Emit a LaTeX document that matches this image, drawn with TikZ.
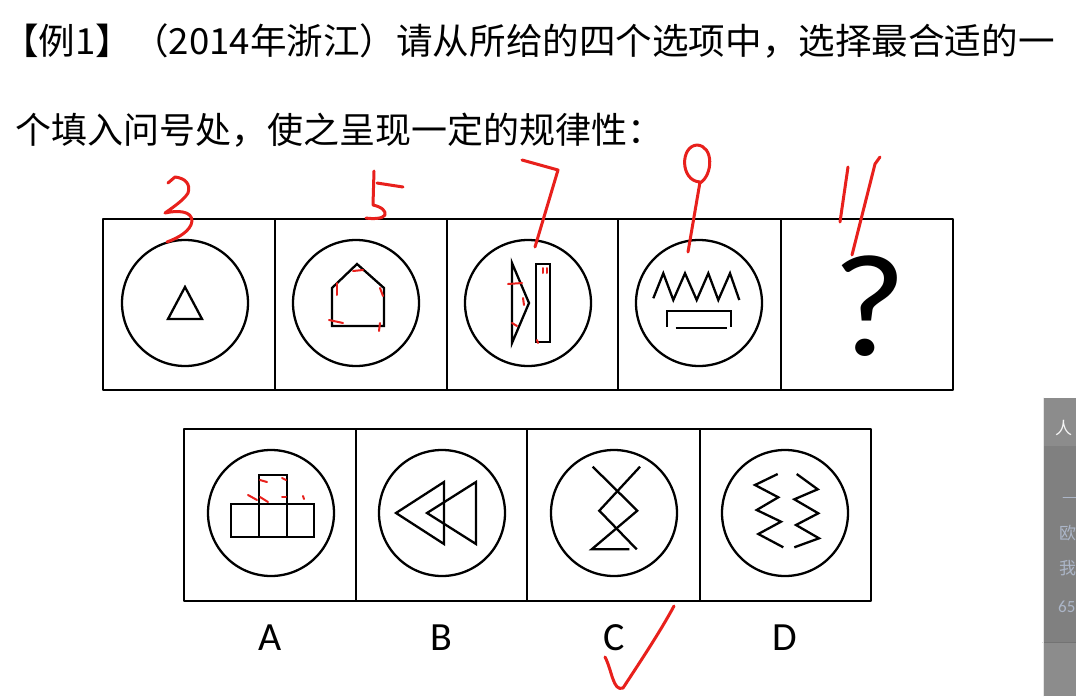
\documentclass[tikz,border=0pt]{standalone}
\usepackage{fontspec}
\setmainfont{Carlito}
\newfontfamily\cjkfont{Noto Sans CJK SC}
\usepackage{xcolor}
\definecolor{inkred}{RGB}{232,32,28}
\definecolor{panelgray}{RGB}{128,128,128}
\definecolor{paneltop}{RGB}{140,140,140}
\definecolor{sideblue}{RGB}{172,182,200}

\begin{document}
\begin{tikzpicture}[x=1pt,y=-1pt,line join=round,line cap=round]
% -------------------------------------------------
% Styles
% -------------------------------------------------
\tikzset{
  cell/.style={draw=black, line width=2.6pt, line cap=rect},
  ring/.style={draw=black, line width=2.3pt},
  glyph/.style={draw=black, line width=2.3pt, line join=miter, line cap=butt},
  ink/.style={draw=inkred, line width=3pt},
  qtext/.style={font=\cjkfont\fontsize{36}{36}\selectfont, anchor=base west, inner sep=0pt},
  optlabel/.style={font=\fontsize{40}{40}\selectfont, anchor=base, inner sep=0pt},
  sidetext/.style={font=\cjkfont\fontsize{17}{17}\selectfont, text=sideblue, anchor=west, inner sep=0pt},
}
\useasboundingbox (0,0) rectangle (1076,696);
\fill[white] (0,0) rectangle (1076,696);
\begin{scope}
\clip (0,0) rectangle (1076,696);
% -------------------------------------------------
% QUESTION
% -------------------------------------------------
\node[qtext] (title1) at (2,54) {\scalebox{1.016}[1]{【例1】（2014年浙江）请从所给的四个选项中，选择最合适的一}};
\node[qtext] (title2) at (15,143) {个填入问号处，使之呈现一定的规律性：};
% -------------------------------------------------
% TOP ROW
% -------------------------------------------------
\draw[cell] (103,219) rectangle (953,390);
\foreach \x in {275,447,618,781}{
  \draw[cell] (\x,219) -- (\x,390);
}
\foreach \x in {185,356,528,699}{
  \draw[ring] (\x,303) circle[radius=63];
}
% triangle
\begin{scope}[shift={(185,303)}]
\draw[glyph] (0,-16) -- (17,16) -- (-17,16) -- cycle;
\end{scope}
% house
\begin{scope}[shift={(356,303)}]
\draw[glyph] (1,-39) -- (28,-15) -- (28,23) -- (-24,23) -- (-24,-15) -- cycle;
\end{scope}
% triangle and bar
\begin{scope}[shift={(528,303)}]
\draw[glyph] (-16,-40) -- (1,0) -- (-16,40) -- cycle;
\draw[glyph] (8,-39) rectangle (22,39);
\end{scope}
% zigzag and bracket
\begin{scope}[shift={(699,303)}]
\draw[glyph] (-45.7,-4.7) -- (-35.7,-29.7) -- (-25.7,-3) -- (-14,-29.7) -- (-2.3,-3)
  -- (9.3,-29.7) -- (19.3,-3) -- (31,-29.7) -- (40.3,-3);
\draw[glyph] (-31.7,23.7) -- (-31.7,8) -- (32,8) -- (32,23.7);
\draw[glyph] (-23.3,24.7) -- (27.7,24.7);
\end{scope}
\node[font=\fontsize{146}{146}\selectfont, anchor=base, inner sep=0pt] (qmark) at (870,355) {\scalebox{1.1}[1]{?}};
% -------------------------------------------------
% OPTIONS
% -------------------------------------------------
\draw[cell] (184,429) rectangle (871,601);
\foreach \x in {356,527,700}{
  \draw[cell] (\x,429) -- (\x,601);
}
\foreach \x in {271,442,614,785}{
  \draw[ring] (\x,513) circle[radius=63];
}
% A
\begin{scope}[shift={(271,513)}]
\draw[glyph] (-40,-9) rectangle (43,24);
\draw[glyph] (-12,-38) rectangle (16,24);
\end{scope}
% B
\begin{scope}[shift={(442,513)}]
\draw[glyph] (-46,0) -- (2,-31) -- (2,31) -- cycle;
\draw[glyph] (-15,0) -- (34,-31) -- (34,31) -- cycle;
\end{scope}
% C
\begin{scope}[shift={(614,513)}]
\draw[glyph] (-21.3,-46.3) -- (23.3,-2.3) -- (-22.3,36.3) -- (15.3,36.3);
\draw[glyph] (26,-46.3) -- (-14.7,-2.3) -- (22.7,36.3);
\end{scope}
% D
\begin{scope}[shift={(785,513)}]
\draw[glyph] (-7.3,-39) -- (-30,-28) -- (-6.7,-15.7) -- (-28.3,-3) -- (-4,8.7) -- (-26.7,21) -- (-1.7,34.3);
\draw[glyph] (11.7,-39) -- (32.7,-23.7) -- (9.3,-13.7) -- (33.3,0.3) -- (11,12) -- (34,25.3) -- (9.3,34.3);
\end{scope}
\node[optlabel] (labA) at (270,650) {A};
\node[optlabel] (labB) at (441,650) {B};
\node[optlabel] (labC) at (614,650) {C};
\node[optlabel] (labD) at (785,650) {D};
% -------------------------------------------------
% RED MARKS
% -------------------------------------------------
% 3
\draw[ink] (168,183) -- (175,177) .. controls (185,178) and (191,184) .. (188,193)
  .. controls (184,200) and (172,208) .. (165,213) .. controls (178,210) and (192,211) .. (192,221)
  .. controls (191,231) and (178,238) .. (167,242);
% 5
\draw[ink] (374,171) -- (373,205) .. controls (382,207) and (386,211) .. (385,215)
  .. controls (383,219) and (372,219) .. (366,218);
\draw[ink] (377,183) -- (403,187);
% 7
\draw[ink] (522,160) -- (558,170) -- (535,247);
% 9
\draw[ink] (700,183) .. controls (713,175) and (714,146) .. (697,145)
  .. controls (680,146) and (680,181) .. (700,182) -- (688,252);
% 11
\draw[ink] (848,167) -- (840,222);
\draw[ink] (880,157) -- (875,164) -- (852,255);
% ticks on the house
\draw[ink, line width=2pt] (353,271) -- (363,270);
\draw[ink, line width=2pt] (337,283) -- (337,295);
\draw[ink, line width=2pt] (380,288) -- (383,296);
\draw[ink, line width=2pt] (329,320) -- (343,323);
\draw[ink, line width=2pt] (380,323) -- (379,331);
% ticks on triangle and bar
\draw[ink, line width=2pt] (508,284) -- (522,283);
\draw[ink, line width=2pt] (523,298) -- (524,305);
\draw[ink, line width=2pt] (512,323) -- (517,326);
\draw[ink, line width=2pt] (543,268) -- (543,273);
\draw[ink, line width=2pt] (547,268) -- (547,273);
\draw[ink, line width=2pt] (537,340) -- (538,343);
% ticks on A
\draw[ink, line width=2pt] (260,480) -- (267,482);
\draw[ink, line width=2pt] (282,478) -- (286,480);
\draw[ink, line width=2pt] (248,495) -- (257,500);
\draw[ink, line width=2pt] (260,497) -- (268,502);
\draw[ink, line width=2pt] (282,497) -- (286,497);
\draw[ink, line width=2pt] (303,496) -- (304,499);
% check mark
\draw[ink] (605,657) .. controls (612,670) and (613,692) .. (623,688)
  .. controls (640,662) and (660,632) .. (674,606);
% -------------------------------------------------
% SIDE PANEL
% -------------------------------------------------
\fill[panelgray] (1043,398) rectangle (1076,696);
\fill[paneltop] (1043,398) rectangle (1076,446);
\fill[paneltop] (1043,643) rectangle (1076,696);
\draw[black!55, line width=1pt] (1043,642) -- (1076,642);
\draw[white!80!gray, line width=0.8pt] (1043.5,398) -- (1043.5,696);
\node[sidetext, text=white!92!gray] (side1) at (1055,428) {人};
\draw[sideblue, line width=1pt] (1063,497) -- (1076,497);
\node[sidetext] (side2) at (1059,533) {欧};
\node[sidetext] (side3) at (1059,568) {我};
\node[sidetext, font=\fontsize{17}{17}\selectfont] (side4) at (1058,607) {65};
\end{scope}
\end{tikzpicture}
\end{document}
